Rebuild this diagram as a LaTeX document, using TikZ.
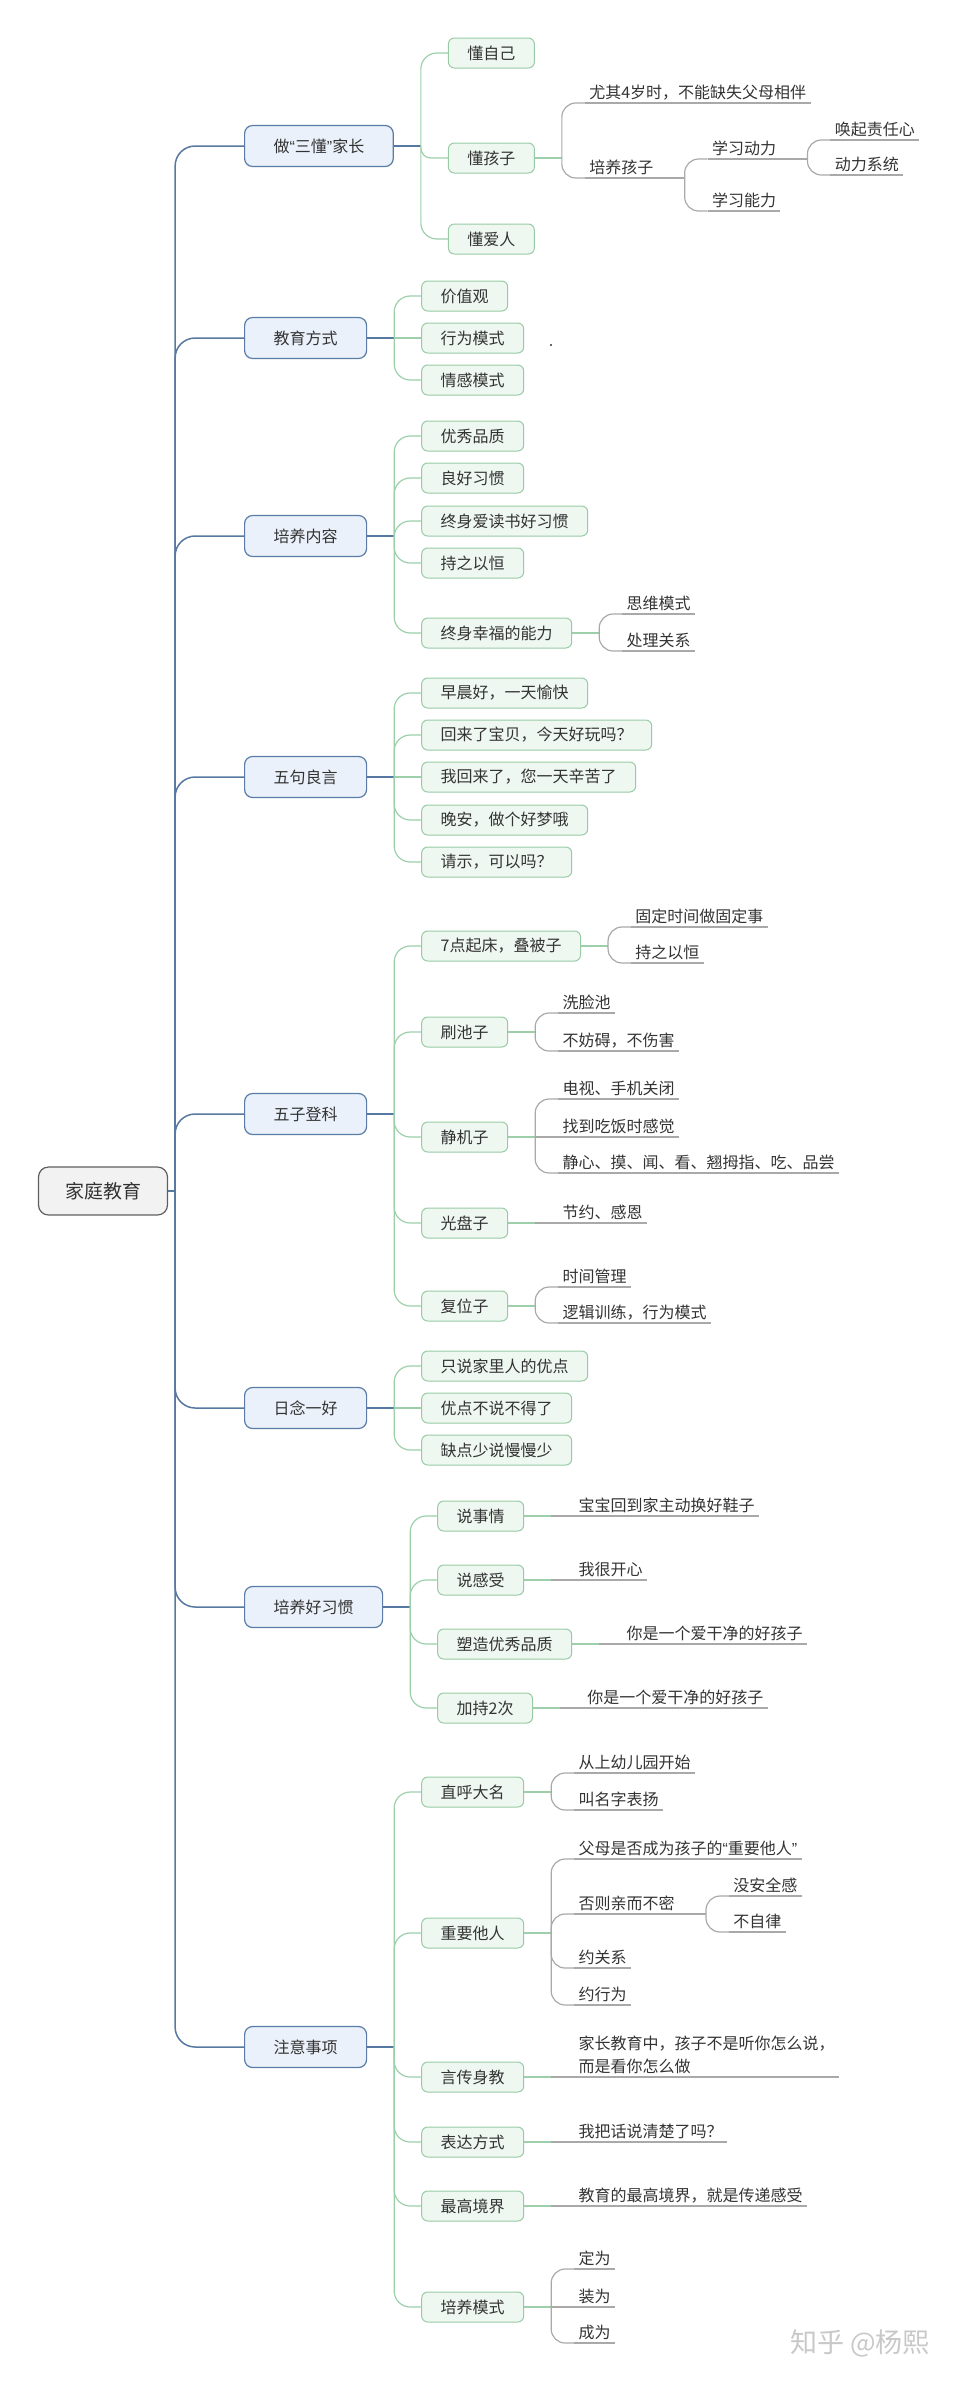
\documentclass[tikz,border=0pt]{standalone}
\usepackage{fontspec}
\setmainfont{Noto Sans CJK SC}
\newfontfamily\latinq{Liberation Sans}

\begin{document}
\begin{tikzpicture}[x=0.5pt,y=-0.5pt,
  every node/.style={text=testo},
  radice/.style={draw=bordoRad, fill=fondoRad, rounded corners=5pt, line width=0.6pt,
    minimum width=64.5pt, minimum height=24pt, font=\fontsize{9.5}{11}\selectfont},
  ramo/.style={draw=bordoBlu, fill=fondoBlu, rounded corners=4pt, line width=0.6pt, anchor=west,
    minimum height=20.5pt, inner xsep=14.5pt, font=\fontsize{8}{10}\selectfont},
  foglia/.style={draw=bordoVer, fill=fondoVer, rounded corners=3pt, line width=0.5pt, anchor=west,
    minimum height=15pt, inner xsep=9.5pt, xshift=13.5pt, font=\fontsize{8}{10}\selectfont},
  nota/.style={anchor=south west, inner xsep=2pt, inner ysep=1.2pt, xshift=11.5pt,
    text height=6.6pt, text depth=1pt, font=\fontsize{8}{10}\selectfont,
    append after command={(\tikzlastnode.south west) edge[lineaGr] (\tikzlastnode.south east)}},
  lineaBlu/.style={draw=lineaB, line width=0.75pt, rounded corners=10pt},
  lineaVer/.style={draw=lineaV, line width=0.6pt, rounded corners=8pt},
  lineaGr/.style={draw=lineaG, line width=0.6pt, rounded corners=7pt}]

% Colori
\definecolor{testo}{HTML}{333333}
\definecolor{bordoRad}{HTML}{5F5F5F}
\definecolor{fondoRad}{HTML}{F2F2F2}
\definecolor{bordoBlu}{HTML}{5A7CA6}
\definecolor{fondoBlu}{HTML}{EAF1FA}
\definecolor{lineaB}{HTML}{5778A0}
\definecolor{bordoVer}{HTML}{98CBA5}
\definecolor{fondoVer}{HTML}{EEF7F0}
\definecolor{lineaV}{HTML}{9CCFAA}
\definecolor{lineaG}{HTML}{A9A9A9}
\definecolor{filigrana}{HTML}{C8C8C8}

\useasboundingbox (0,0) rectangle (958,2382);

% Radice
\node[radice] (rad) at (103,1191) {家庭教育};
\coordinate (tronco) at ([xshift=3.5pt]rad.east);
\draw[lineaBlu] (rad.east) -- (tronco);

% Rami principali
\node[ramo] (sd) at (244,146) {做{\latinq“}三懂{\latinq”}家长};
\node[ramo] (jyfs) at (244,338) {教育方式};
\node[ramo] (pynr) at (244,536) {培养内容};
\node[ramo] (wjly) at (244,777) {五句良言};
\node[ramo] (wzdk) at (244,1114) {五子登科};
\node[ramo] (rnyh) at (244,1408) {日念一好};
\node[ramo] (pyhx) at (244,1607) {培养好习惯};
\node[ramo] (zysx) at (244,2047) {注意事项};

\foreach \r in {sd,jyfs,pynr,wjly,wzdk,rnyh,pyhx,zysx} {
  \draw[lineaBlu] (tronco) |- (\r.west);
  \coordinate (\r-j) at ([xshift=13.5pt]\r.east);
  \draw[lineaBlu] (\r.east) -- (\r-j);
}

% 做“三懂”家长
\node[foglia] (dzj) at (sd-j |- 0,53) {懂自己};
\node[foglia] (dhz) at (sd-j |- 0,158) {懂孩子};
\node[foglia] (dar) at (sd-j |- 0,239) {懂爱人};
\draw[lineaVer] (sd-j) |- (dzj.west);
\draw[lineaVer, rounded corners=5pt] (sd-j) |- (dhz.west);
\draw[lineaVer] (sd-j) |- (dar.west);

\coordinate (dhz-j) at ([xshift=13.5pt]dhz.east);
\draw[lineaVer] (dhz.east) -- (dhz-j);
\node[nota] (qbs) at (dhz-j |- 0,103) {尤其4岁时，不能缺失父母相伴};
\node[nota] (pyhz) at (dhz-j |- 0,178) {培养孩子};
\foreach \c in {qbs,pyhz} \draw[lineaGr] (dhz-j) |- (\c.south west);

\coordinate (pyhz-j) at ([xshift=13.5pt]pyhz.south east);
\draw[lineaGr] (pyhz.south east) -- (pyhz-j);
\node[nota] (xxdl) at (pyhz-j |- 0,159) {学习动力};
\node[nota] (xxnl) at (pyhz-j |- 0,211) {学习能力};
\foreach \c in {xxdl,xxnl} \draw[lineaGr] (pyhz-j) |- (\c.south west);

\coordinate (xxdl-j) at ([xshift=13.5pt]xxdl.south east);
\draw[lineaGr] (xxdl.south east) -- (xxdl-j);
\node[nota] (hqzr) at (xxdl-j |- 0,140) {唤起责任心};
\node[nota] (dlxt) at (xxdl-j |- 0,175) {动力系统};
\foreach \c in {hqzr,dlxt} \draw[lineaGr] (xxdl-j) |- (\c.south west);

% 教育方式
\node[foglia] (jzg) at (jyfs-j |- 0,296) {价值观};
\node[foglia] (xwms) at (jyfs-j) {行为模式};
\node[foglia] (qgms) at (jyfs-j |- 0,380) {情感模式};
\foreach \c in {jzg,qgms} \draw[lineaVer] (jyfs-j) |- (\c.west);
\draw[lineaVer] (jyfs-j) -- (xwms.west);
\fill[testo] (551,345) circle (0.6pt);

% 培养内容
\node[foglia] (yxpz) at (pynr-j |- 0,436) {优秀品质};
\node[foglia] (lhxg) at (pynr-j |- 0,478) {良好习惯};
\node[foglia] (zsad) at (pynr-j |- 0,521) {终身爱读书好习惯};
\node[foglia] (czyh) at (pynr-j |- 0,563) {持之以恒};
\node[foglia] (zsxf) at (pynr-j |- 0,633) {终身幸福的能力};
\foreach \c in {yxpz,lhxg,zsad,czyh,zsxf} \draw[lineaVer] (pynr-j) |- (\c.west);

\coordinate (zsxf-j) at ([xshift=13.5pt]zsxf.east);
\draw[lineaVer] (zsxf.east) -- (zsxf-j);
\node[nota] (swms) at (zsxf-j |- 0,614) {思维模式};
\node[nota] (clgx) at (zsxf-j |- 0,651) {处理关系};
\foreach \c in {swms,clgx} \draw[lineaGr] (zsxf-j) |- (\c.south west);

% 五句良言
\node[foglia] (zch) at (wjly-j |- 0,693) {早晨好，一天愉快};
\node[foglia] (hlbb) at (wjly-j |- 0,735) {回来了宝贝，今天好玩吗？};
\node[foglia] (whl) at (wjly-j) {我回来了，您一天辛苦了};
\node[foglia] (wa) at (wjly-j |- 0,820) {晚安，做个好梦哦};
\node[foglia] (qs) at (wjly-j |- 0,862) {请示，可以吗？};
\foreach \c in {zch,hlbb,wa,qs} \draw[lineaVer] (wjly-j) |- (\c.west);
\draw[lineaVer] (wjly-j) -- (whl.west);

% 五子登科
\node[foglia] (qdqc) at (wzdk-j |- 0,946) {7点起床，叠被子};
\node[foglia] (scz) at (wzdk-j |- 0,1032) {刷池子};
\node[foglia] (jjz) at (wzdk-j |- 0,1137) {静机子};
\node[foglia] (gpz) at (wzdk-j |- 0,1223) {光盘子};
\node[foglia] (fwz) at (wzdk-j |- 0,1306) {复位子};
\foreach \c in {qdqc,scz,jjz,gpz,fwz} {
  \draw[lineaVer] (wzdk-j) |- (\c.west);
  \coordinate (\c-j) at ([xshift=13.5pt]\c.east);
  \draw[lineaVer] (\c.east) -- (\c-j);
}

\node[nota] (gdsj) at (qdqc-j |- 0,927) {固定时间做固定事};
\node[nota] (czyh2) at (qdqc-j |- 0,963) {持之以恒};
\foreach \c in {gdsj,czyh2} \draw[lineaGr] (qdqc-j) |- (\c.south west);

\node[nota] (xlc) at (scz-j |- 0,1013) {洗脸池};
\node[nota] (bfa) at (scz-j |- 0,1051) {不妨碍，不伤害};
\foreach \c in {xlc,bfa} \draw[lineaGr] (scz-j) |- (\c.south west);

\node[nota] (dssj) at (jjz-j |- 0,1099) {电视、手机关闭};
\node[nota] (zdcf) at (jjz-j) {找到吃饭时感觉};
\node[nota] (jxm) at (jjz-j |- 0,1173) {静心、摸、闻、看、翘拇指、吃、品尝};
\foreach \c in {dssj,jxm} \draw[lineaGr] (jjz-j) |- (\c.south west);
\draw[lineaGr] (jjz-j) -- (zdcf.south west);

\node[nota] (jyge) at (gpz-j) {节约、感恩};
\draw[lineaGr] (gpz-j) -- (jyge.south west);

\node[nota] (sjgl) at (fwz-j |- 0,1287) {时间管理};
\node[nota] (ljxl) at (fwz-j |- 0,1323) {逻辑训练，行为模式};
\foreach \c in {sjgl,ljxl} \draw[lineaGr] (fwz-j) |- (\c.south west);

% 日念一好
\node[foglia] (zsjl) at (rnyh-j |- 0,1366) {只说家里人的优点};
\node[foglia] (ydbs) at (rnyh-j) {优点不说不得了};
\node[foglia] (qdss) at (rnyh-j |- 0,1450) {缺点少说慢慢少};
\foreach \c in {zsjl,qdss} \draw[lineaVer] (rnyh-j) |- (\c.west);
\draw[lineaVer] (rnyh-j) -- (ydbs.west);

% 培养好习惯
\node[foglia] (ssq) at (pyhx-j |- 0,1516) {说事情};
\node[foglia] (sgs) at (pyhx-j |- 0,1580) {说感受};
\node[foglia] (szyx) at (pyhx-j |- 0,1644) {塑造优秀品质};
\node[foglia] (jc2) at (pyhx-j |- 0,1708) {加持2次};
\foreach \c in {ssq,sgs,szyx,jc2} {
  \draw[lineaVer] (pyhx-j) |- (\c.west);
  \coordinate (\c-j) at ([xshift=13.5pt]\c.east);
  \draw[lineaVer] (\c.east) -- (\c-j);
}
\node[nota] (bbhj) at (ssq-j) {宝宝回到家主动换好鞋子};
\node[nota] (whkx) at (sgs-j) {我很开心};
\node[nota] (nsa) at (szyx-j) {你是一个爱干净的好孩子};
\node[nota] (nsb) at (jc2-j) {你是一个爱干净的好孩子};
\draw[lineaGr] (ssq-j) -- (bbhj.south west);
\draw[lineaGr] (sgs-j) -- (whkx.south west);
\draw[lineaGr] (szyx-j) -- (nsa.south west);
\draw[lineaGr] (jc2-j) -- (nsb.south west);

% 注意事项
\node[foglia] (zhdm) at (zysx-j |- 0,1792) {直呼大名};
\node[foglia] (zyjr) at (zysx-j |- 0,1933) {重要他人};
\node[foglia] (ycsj) at (zysx-j |- 0,2077) {言传身教};
\node[foglia] (bdfs) at (zysx-j |- 0,2142) {表达方式};
\node[foglia] (zgjj) at (zysx-j |- 0,2206) {最高境界};
\node[foglia] (pyms) at (zysx-j |- 0,2307) {培养模式};
\foreach \c in {zhdm,zyjr,ycsj,bdfs,zgjj,pyms} {
  \draw[lineaVer] (zysx-j) |- (\c.west);
  \coordinate (\c-j) at ([xshift=13.5pt]\c.east);
  \draw[lineaVer] (\c.east) -- (\c-j);
}

\node[nota] (csy) at (zhdm-j |- 0,1773) {从上幼儿园开始};
\node[nota] (jmz) at (zhdm-j |- 0,1810) {叫名字表扬};
\foreach \c in {csy,jmz} \draw[lineaGr] (zhdm-j) |- (\c.south west);

\node[nota] (fmsf) at (zyjr-j |- 0,1859) {父母是否成为孩子的{\latinq“}重要他人{\latinq”}};
\node[nota] (fzqe) at (zyjr-j |- 0,1914) {否则亲而不密};
\node[nota] (ygx) at (zyjr-j |- 0,1968) {约关系};
\node[nota] (yxw) at (zyjr-j |- 0,2005) {约行为};
\foreach \c in {fmsf,fzqe,ygx,yxw} \draw[lineaGr] (zyjr-j) |- (\c.south west);

\coordinate (fzqe-j) at ([xshift=13.5pt]fzqe.south east);
\draw[lineaGr] (fzqe.south east) -- (fzqe-j);
\node[nota] (maq) at (fzqe-j |- 0,1896) {没安全感};
\node[nota] (bzl) at (fzqe-j |- 0,1932) {不自律};
\foreach \c in {maq,bzl} \draw[lineaGr] (fzqe-j) |- (\c.south west);

\node[nota, align=left, text height=, text depth=, font=\fontsize{8}{11.5}\selectfont] (jzjy) at (ycsj-j)
  {家长教育中，孩子不是听你怎么说，\\而是看你怎么做};
\draw[lineaGr] (ycsj-j) -- (jzjy.south west);

\node[nota] (wbhs) at (bdfs-j) {我把话说清楚了吗？};
\draw[lineaGr] (bdfs-j) -- (wbhs.south west);

\node[nota] (jydz) at (zgjj-j) {教育的最高境界，就是传递感受};
\draw[lineaGr] (zgjj-j) -- (jydz.south west);

\node[nota] (dw) at (pyms-j |- 0,2269) {定为};
\node[nota] (zw) at (pyms-j) {装为};
\node[nota] (cw) at (pyms-j |- 0,2343) {成为};
\foreach \c in {dw,cw} \draw[lineaGr] (pyms-j) |- (\c.south west);
\draw[lineaGr] (pyms-j) -- (zw.south west);

% Filigrana
\node[anchor=east, text=filigrana, font=\fontsize{13.5}{15}\selectfont] (fil) at (937,2343) {知乎 @杨熙};

\end{tikzpicture}
\end{document}
